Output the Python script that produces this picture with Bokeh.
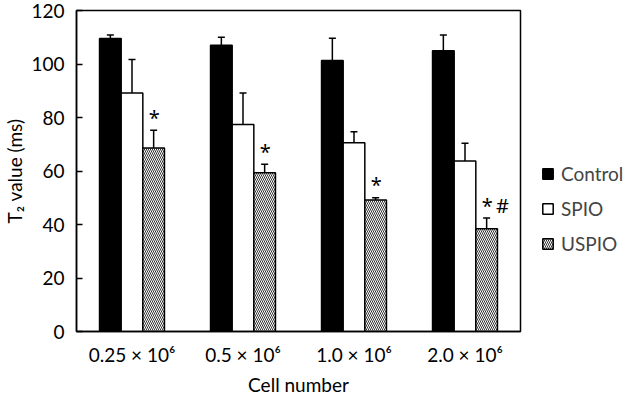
from bokeh.plotting import figure
from bokeh.models import ColumnDataSource, FactorRange, Whisker, Legend, LegendItem, TeeHead
from bokeh.transform import dodge
from bokeh.core.properties import value
from bokeh.embed import file_html
from bokeh.resources import INLINE

cells = ["0.25 × 10⁶", "0.5 × 10⁶", "1.0 × 10⁶", "2.0 × 10⁶"]
control = [109.5, 107.0, 101.3, 105.0]
control_err = [1.3, 3.0, 8.3, 5.8]
spio = [89.2, 77.4, 70.6, 63.7]
spio_err = [12.5, 11.8, 4.1, 6.7]
uspio = [68.6, 59.3, 49.2, 38.4]
uspio_err = [6.6, 3.2, 0.8, 4.0]
marks = ["*", "*", "*", "*\u2009#"]

FONT = "Lato"

p = figure(x_range=FactorRange(*cells, range_padding=0), y_range=(0, 120),
           frame_width=444, frame_height=321,
           output_backend="svg", toolbar_location=None,
           min_border_left=70, min_border_right=104, min_border_top=10,
           min_border_bottom=57)

src_c = ColumnDataSource(dict(cell=cells, v=control, up=[a + b for a, b in zip(control, control_err)]))
src_s = ColumnDataSource(dict(cell=cells, v=spio, up=[a + b for a, b in zip(spio, spio_err)]))
src_u = ColumnDataSource(dict(cell=cells, v=uspio, up=[a + b for a, b in zip(uspio, uspio_err)], m=marks))

W = 0.195
r_c = p.vbar(x=dodge("cell", -W, range=p.x_range), top="v", width=W, source=src_c,
             fill_color="black", line_color="black", line_width=1.5)
r_s = p.vbar(x=dodge("cell", 0, range=p.x_range), top="v", width=W, source=src_s,
             fill_color="white", line_color="black", line_width=1.5)
r_u = p.vbar(x=dodge("cell", W, range=p.x_range), top="v", width=W, source=src_u,
             fill_color="white", line_color="black", line_width=1.5,
             hatch_pattern="\\", hatch_color="#333333", hatch_scale=4, hatch_weight=1)

for src, off in ((src_c, -W), (src_s, 0), (src_u, W)):
    w = Whisker(source=src, base=dodge("cell", off, range=p.x_range), lower="v", upper="up",
                line_color="black", line_width=1.5,
                upper_head=TeeHead(size=7, line_width=1.5, line_color="black"), lower_head=None)
    p.add_layout(w)

p.text(x=dodge("cell", W, range=p.x_range), y="up", text="m", source=src_u,
       text_align="left", text_baseline="alphabetic", y_offset=-13, x_offset=-5,
       text_font=value("Noto Sans"), text_font_size="20px", text_color="black")

legend = Legend(items=[LegendItem(label="Control", renderers=[r_c]),
                       LegendItem(label="SPIO", renderers=[r_s]),
                       LegendItem(label="USPIO", renderers=[r_u])],
                location=(21, 76), border_line_color=None, background_fill_alpha=0,
                glyph_width=13, glyph_height=13, label_height=20, label_text_font=FONT,
                label_text_font_size="19px", spacing=12, label_standoff=7,
                padding=0, margin=0)
p.add_layout(legend, "right")

p.xgrid.grid_line_color = None
p.ygrid.grid_line_color = None
p.outline_line_color = "black"
p.outline_line_width = 1.5

p.yaxis.ticker = [0, 20, 40, 60, 80, 100, 120]
p.yaxis.major_tick_in = 6
p.yaxis.major_tick_out = 0
p.yaxis.minor_tick_line_color = None
p.yaxis.axis_line_width = 1.5
p.yaxis.major_tick_line_width = 1.5
p.yaxis.axis_label = "T₂ value (ms)"

p.xaxis.major_tick_line_color = None
p.xaxis.minor_tick_line_color = None
p.xaxis.axis_line_width = 1.5
p.xaxis.axis_label = "Cell number"

for ax in (p.xaxis[0], p.yaxis[0]):
    ax.major_label_text_font = FONT
    ax.major_label_text_font_size = "19px"
    ax.major_label_text_color = "black"
    ax.axis_label_text_font = FONT
    ax.axis_label_text_font_size = "19px"
    ax.axis_label_text_font_style = "normal"
    ax.axis_label_text_color = "black"
    ax.axis_line_color = "black"
p.xaxis.major_label_standoff = 5
p.xaxis.axis_label_standoff = 4
p.yaxis.major_label_standoff = 12
p.yaxis.axis_label_standoff = 2

open("out.html", "w").write(file_html(p, INLINE))
